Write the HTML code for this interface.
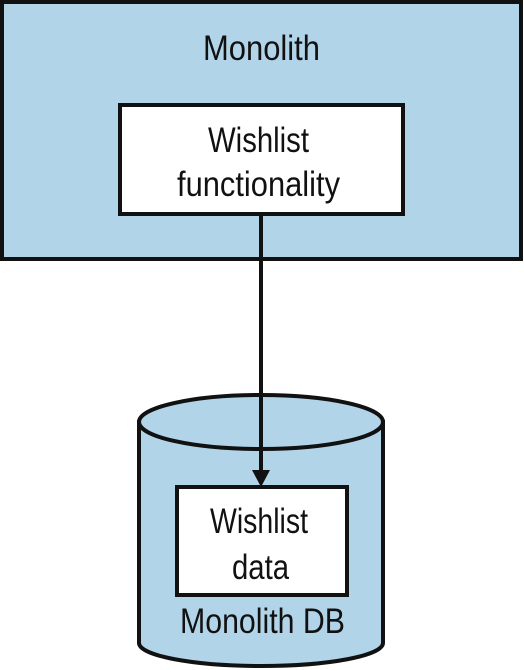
<!DOCTYPE html>
<html><head><meta charset="utf-8"><style>html,body{margin:0;padding:0;background:#fff}svg{display:block}</style></head>
<body>
<svg width="524" height="670" viewBox="0 0 524 670" xmlns="http://www.w3.org/2000/svg" font-family="Liberation Sans, sans-serif" font-size="35" fill="#111">
<rect x="2" y="2" width="519" height="257" fill="#b1d4e9" stroke="#111" stroke-width="4"/>
<rect x="120" y="105" width="283" height="109" fill="#fff" stroke="#111" stroke-width="4"/>
<text x="203" y="60" textLength="117" lengthAdjust="spacingAndGlyphs">Monolith</text>
<text x="208" y="152" textLength="101" lengthAdjust="spacingAndGlyphs">Wishlist</text>
<text x="177" y="196" textLength="163" lengthAdjust="spacingAndGlyphs">functionality</text>
<path d="M139,422 L139,643 A122,23 0 0 0 383,643 L383,422 Z" fill="#b1d4e9" stroke="#111" stroke-width="4"/>
<ellipse cx="261" cy="422" rx="122" ry="27" fill="#b1d4e9" stroke="#111" stroke-width="4"/>
<line x1="261" y1="214" x2="261" y2="472" stroke="#111" stroke-width="4"/>
<polygon points="252,470 270,470 261,487" fill="#111"/>
<rect x="177" y="487" width="170" height="108" fill="#fff" stroke="#111" stroke-width="4"/>
<text x="210" y="533" textLength="98" lengthAdjust="spacingAndGlyphs">Wishlist</text>
<text x="232" y="579" textLength="57" lengthAdjust="spacingAndGlyphs">data</text>
<text x="180" y="633" textLength="165" lengthAdjust="spacingAndGlyphs">Monolith DB</text>
</svg>
</body></html>
